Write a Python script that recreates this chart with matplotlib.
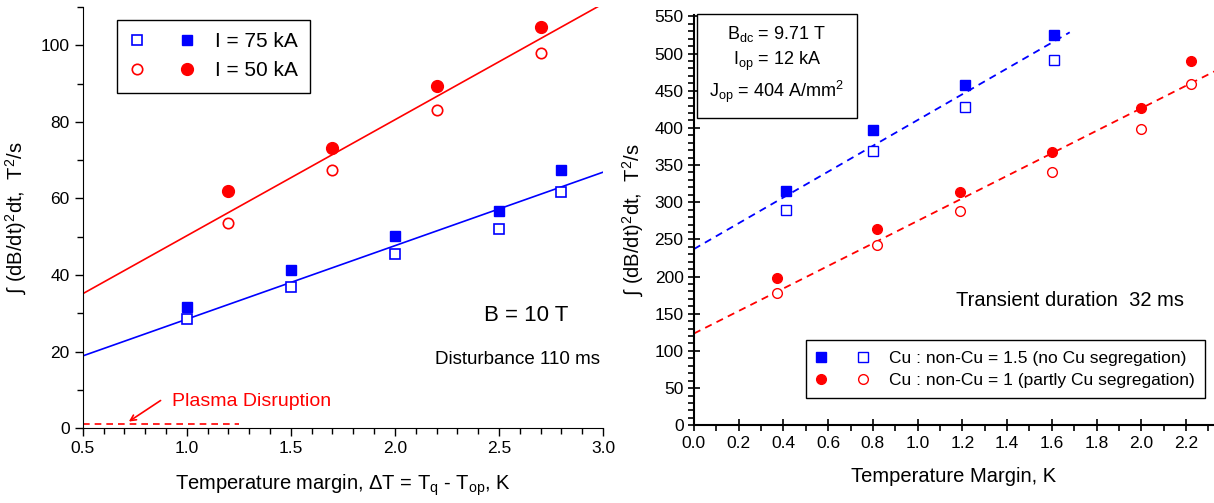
import matplotlib
matplotlib.use('Agg')
import matplotlib.pyplot as plt
import numpy as np
from matplotlib.legend_handler import HandlerTuple
from matplotlib.lines import Line2D
from matplotlib.ticker import MultipleLocator

plt.rcParams['font.family'] = ['Liberation Sans Narrow', 'Liberation Sans', 'DejaVu Sans']
plt.rcParams['mathtext.fontset'] = 'custom'
plt.rcParams['mathtext.rm'] = 'Liberation Sans Narrow'
plt.rcParams['mathtext.default'] = 'regular'

# ---------------- data: left panel (B = 10 T) ----------------
left_x_75 = [1.0, 1.5, 2.0, 2.5, 2.8]
left_75_filled = [31.5, 41.2, 50.1, 56.7, 67.4]
left_75_open = [28.4, 36.9, 45.6, 52.0, 61.8]
left_x_50 = [1.2, 1.7, 2.2, 2.7]
left_50_filled = [62.0, 73.1, 89.3, 104.8]
left_50_open = [53.5, 67.4, 83.1, 98.1]
# fitted lines (slope, intercept)
left_fit_75 = (19.2, 9.25)
left_fit_50 = (30.3, 19.95)
left_xticks = [0.5, 1.0, 1.5, 2.0, 2.5, 3.0]
left_yticks = [0, 20, 40, 60, 80, 100]
plasma_level = 1.0

# ---------------- data: right panel ----------------
right_x_b = [0.41, 0.80, 1.21, 1.61]
right_b_filled = [314.8, 397.7, 458.2, 524.9]
right_b_open = [289.2, 369.4, 428.6, 491.8]
right_x_r = [0.37, 0.82, 1.19, 1.60, 2.00, 2.22]
right_r_filled = [197.7, 264.2, 314.3, 368.1, 426.8, 490.4]
right_r_open = [177.5, 242.7, 288.4, 340.8, 398.0, 458.6]
right_fit_b = (173.5, 237.0)
right_fit_r = (151.5, 123.4)
right_xticks = [0.0, 0.2, 0.4, 0.6, 0.8, 1.0, 1.2, 1.4, 1.6, 1.8, 2.0, 2.2]
right_yticks = list(range(0, 551, 50))

BLUE = '#0000ff'
RED = '#ff0000'

fig = plt.figure(figsize=(12.14, 5.03), dpi=100)

# ======================= LEFT =======================
ax1 = fig.add_axes([0.0682, 0.149, 0.4285, 0.837])
ax1.set_xlim(0.5, 3.0)
ax1.set_ylim(0, 110)
for s in ['top', 'right']:
    ax1.spines[s].set_visible(False)
ax1.set_xticks(left_xticks)
ax1.set_xticklabels([f'{v:.1f}' for v in left_xticks])
ax1.set_yticks(left_yticks)
ax1.xaxis.set_minor_locator(MultipleLocator(0.1))
ax1.yaxis.set_minor_locator(MultipleLocator(10))
ax1.tick_params(which='major', direction='out', length=6, width=1, labelsize=12.5)
ax1.tick_params(which='minor', direction='out', length=4, width=1)

xl = np.array([0.5, 3.0])
ax1.plot(xl, left_fit_75[0] * xl + left_fit_75[1], color=BLUE, lw=1.2)
xr = np.array([0.5, 3.1])
ax1.plot(xr, left_fit_50[0] * xr + left_fit_50[1], color=RED, lw=1.2, clip_on=True)

b_open, = ax1.plot(left_x_75, left_75_open, ls='none', marker='s', ms=6.5,
                   mfc='white', mec=BLUE, mew=1.2)
b_fill, = ax1.plot(left_x_75, left_75_filled, ls='none', marker='s', ms=7,
                   mfc=BLUE, mec=BLUE)
r_open, = ax1.plot(left_x_50, left_50_open, ls='none', marker='o', ms=7.5,
                   mfc='white', mec=RED, mew=1.2)
r_fill, = ax1.plot(left_x_50, left_50_filled, ls='none', marker='o', ms=8.5,
                   mfc=RED, mec=RED)

leg1 = ax1.legend([(b_open, b_fill), (r_open, r_fill)], ['I = 75 kA', 'I = 50 kA'],
                  handler_map={tuple: HandlerTuple(ndivide=None, pad=1.6)},
                  loc='upper left', bbox_to_anchor=(0.045, 0.995), fontsize=15,
                  frameon=True, fancybox=False, edgecolor='black', framealpha=1,
                  handlelength=3.2, handletextpad=0.9, borderpad=0.6, labelspacing=0.5)
leg1.get_frame().set_linewidth(1.0)

ax1.plot([0.5, 1.25], [plasma_level, plasma_level], color=RED, ls=(0, (4, 3)), lw=1.2)
ax1.annotate('', xy=(0.71, 1.3), xytext=(0.885, 7.6),
             arrowprops=dict(arrowstyle='->', color=RED, lw=1.2))
ax1.text(0.93, 6.9, 'Plasma Disruption', color=RED, fontsize=14, va='center', ha='left')
ax1.text(2.63, 29.4, 'B = 10 T', fontsize=16, ha='center', va='center')
ax1.text(2.59, 17.9, 'Disturbance 110 ms', fontsize=13.5, ha='center', va='center')

ax1.set_xlabel(r'Temperature margin, $\Delta$T = T$_q$ - T$_{op}$, K', fontsize=14.5, labelpad=12)
ax1.set_ylabel(r'$\int$ (dB/dt)$^2$dt,  T$^2$/s', fontsize=14.5, labelpad=8)

# ======================= RIGHT =======================
ax2 = fig.add_axes([0.5716, 0.1545, 0.4284, 0.816])
ax2.set_xlim(0.0, 2.325)
ax2.set_ylim(0, 552)
ax2.spines['top'].set_visible(False)
ax2.spines['right'].set_visible(False)
ax2.set_xticks(right_xticks)
ax2.set_xticklabels([f'{v:.1f}' for v in right_xticks])
ax2.set_yticks(right_yticks)
ax2.xaxis.set_minor_locator(MultipleLocator(0.1))
ax2.yaxis.set_minor_locator(MultipleLocator(10))
ax2.tick_params(which='major', direction='inout', length=8, width=1.2, labelsize=12.5)
ax2.tick_params(which='minor', direction='out', length=4, width=1.2)
for s in ['left', 'bottom']:
    ax2.spines[s].set_linewidth(1.5)

xb = np.array([0.0, 1.68])
ax2.plot(xb, right_fit_b[0] * xb + right_fit_b[1], color=BLUE, lw=1.3, ls=(0, (4, 3)))
xrr = np.array([0.0, 2.4])
ax2.plot(xrr, right_fit_r[0] * xrr + right_fit_r[1], color=RED, lw=1.3, ls=(0, (4, 3)))

rb_fill, = ax2.plot(right_x_b, right_b_filled, ls='none', marker='s', ms=7,
                    mfc=BLUE, mec=BLUE)
rb_open, = ax2.plot(right_x_b, right_b_open, ls='none', marker='s', ms=6.5,
                    mfc='white', mec=BLUE, mew=1.0)
rr_fill, = ax2.plot(right_x_r, right_r_filled, ls='none', marker='o', ms=7,
                    mfc=RED, mec=RED)
rr_open, = ax2.plot(right_x_r, right_r_open, ls='none', marker='o', ms=7,
                    mfc='white', mec=RED, mew=1.0)

leg2 = ax2.legend([(rb_fill, rb_open), (rr_fill, rr_open)],
                  ['Cu : non-Cu = 1.5 (no Cu segregation)',
                   'Cu : non-Cu = 1 (partly Cu segregation)'],
                  handler_map={tuple: HandlerTuple(ndivide=None, pad=1.8)},
                  loc='lower right', bbox_to_anchor=(1.0, 0.045), fontsize=12.5,
                  frameon=True, fancybox=False, edgecolor='black', framealpha=1,
                  handlelength=3.0, handletextpad=1.2, borderpad=0.6, labelspacing=0.4)
leg2.get_frame().set_linewidth(1.0)

ax2.text(1.68, 167.6, 'Transient duration  32 ms', fontsize=14.5, ha='center', va='center')

box_text = 'B$_{dc}$ = 9.71 T\nI$_{op}$ = 12 kA\nJ$_{op}$ = 404 A/mm$^2$'
ax2.text(0.37, 485, box_text, fontsize=13, ha='center', va='center', linespacing=1.35,
         bbox=dict(boxstyle='square,pad=0.7', fc='white', ec='black', lw=1.0))

ax2.set_xlabel('Temperature Margin, K', fontsize=14.5, labelpad=12)
ax2.set_ylabel(r'$\int$ (dB/dt)$^2$dt,  T$^2$/s', fontsize=14.5, labelpad=6)

fig.savefig('out.png', dpi=100)
